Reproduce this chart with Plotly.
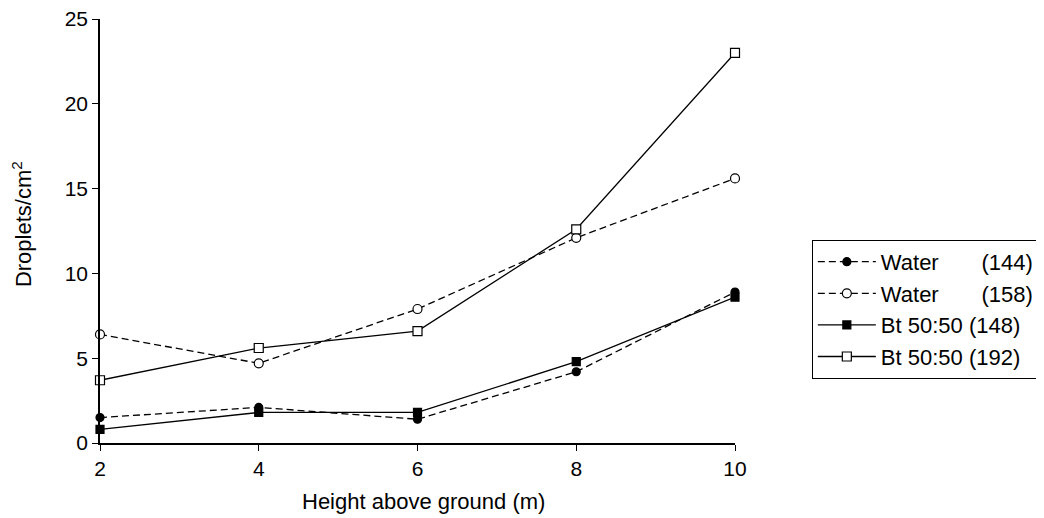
import plotly.graph_objects as go

heights = [2, 4, 6, 8, 10]
water_144 = [1.5, 2.1, 1.4, 4.2, 8.9]
water_158 = [6.4, 4.7, 7.9, 12.1, 15.6]
bt_148 = [0.8, 1.8, 1.8, 4.8, 8.6]
bt_192 = [3.7, 5.6, 6.6, 12.6, 23.0]
y_ticks = [0, 5, 10, 15, 20, 25]

NB = "\u00a0"
names = [
    "Water" + NB * 7 + "(144)",
    "Water" + NB * 7 + "(158)",
    "Bt 50:50 (148)",
    "Bt 50:50 (192)",
]
series = [water_144, water_158, bt_148, bt_192]
dashes = ["7px,4px", "7px,4px", "solid", "solid"]
symbols = ["circle", "circle", "square", "square"]
fills = ["black", "white", "black", "white"]
sizes = [8, 9, 8, 9]

fig = go.Figure()
for name, ys, dash, sym, fill, sz in zip(names, series, dashes, symbols, fills, sizes):
    fig.add_trace(go.Scatter(
        x=heights, y=ys, name=name, mode="lines+markers", cliponaxis=False,
        line=dict(color="black", width=1.3, dash=dash),
        marker=dict(symbol=sym, size=sz, color=fill,
                    line=dict(color="black", width=1.2)),
    ))

font = "Liberation Sans, Arial, sans-serif"
fig.update_layout(
    width=1036, height=510,
    margin=dict(l=92, r=309, t=11, b=75, autoexpand=False),
    paper_bgcolor="white", plot_bgcolor="white",
    font=dict(family=font, size=21, color="black"),
    legend=dict(x=1.121, y=0.479, xanchor="left", yanchor="top",
                bordercolor="black", borderwidth=1, font=dict(size=22),
                tracegroupgap=0, itemwidth=58),
    showlegend=True,
    annotations=[
        dict(text="Height above ground (m)", xref="paper", yref="paper",
             x=0.509, y=-0.139, xanchor="center", yanchor="middle",
             showarrow=False, font=dict(size=22)),
        dict(text="Droplets/cm<sup>2</sup>", xref="paper", yref="paper",
             x=-0.123, y=0.516, xanchor="center", yanchor="middle", textangle=-90,
             showarrow=False, font=dict(size=22)),
    ],
)
fig.update_xaxes(
    range=[2, 10], tickvals=heights, ticks="outside", ticklen=6, tickcolor="black",
    showline=True, linecolor="black", linewidth=1.5, showgrid=False, zeroline=False,
    automargin=False, ticklabeloverflow="allow",
)
fig.update_yaxes(
    range=[0, 25], tickvals=y_ticks, ticks="outside", ticklen=6, tickcolor="black",
    showline=True, linecolor="black", linewidth=1.5, showgrid=False, zeroline=False,
    automargin=False, ticklabeloverflow="allow",
)
fig.write_html("out.html")
